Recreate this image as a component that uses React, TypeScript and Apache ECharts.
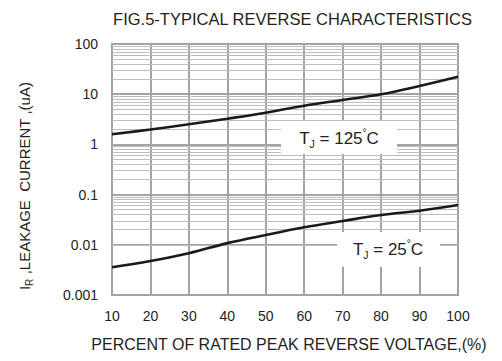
import React, { useEffect, useRef } from "react";
import * as echarts from "echarts";

const voltagePct = [10, 20, 30, 40, 50, 60, 70, 80, 90, 100];
const ir125 = [1.59, 1.98, 2.51, 3.25, 4.28, 5.9, 7.66, 9.95, 14.6, 22.3];
const ir25 = [0.00356, 0.00475, 0.0068, 0.0108, 0.0157, 0.0223, 0.0298, 0.0392, 0.0478, 0.0621];
const yTickLabels = ["0.001", "0.01", "0.1", "1", "10", "100"];
const decades = [0.001, 0.01, 0.1, 1, 10];
const minorMultipliers = [2, 3, 4, 5, 6, 7, 8, 9];

const TEXT = "#231f20";
const FONT = "Liberation Sans, Arial, sans-serif";

export default function App() {
  const ref = useRef<HTMLDivElement>(null);
  useEffect(() => {
    if (!ref.current) return;
    const chart = echarts.init(ref.current, null, { renderer: "svg" });
    const minorLines: { yAxis: number }[] = [];
    decades.forEach((d) => minorMultipliers.forEach((m) => minorLines.push({ yAxis: +(d * m).toPrecision(3) })));

    const tjRich = {
      n: { fontSize: 17, fontFamily: FONT, fill: TEXT, lineHeight: 22, verticalAlign: "middle" },
      s: { fontSize: 10.5, fontFamily: FONT, fill: TEXT, lineHeight: 22, verticalAlign: "bottom", padding: [10, 0, 0, 0] },
      u: { fontSize: 10, fontFamily: FONT, fill: TEXT, lineHeight: 22, verticalAlign: "top", padding: [0, 0, 8, 0] },
    };

    chart.setOption({
      animation: false,
      backgroundColor: "#fff",
      textStyle: { fontFamily: FONT },
      grid: {
        left: 112,
        top: 44,
        right: 44,
        bottom: 66,
        outerBoundsMode: "none",
        containLabel: false,
        show: true,
        borderColor: "#9b9b9b",
        borderWidth: 2,
      },
      xAxis: {
        type: "value",
        min: 10,
        max: 100,
        interval: 10,
        name: "PERCENT OF RATED PEAK REVERSE VOLTAGE,(%)",
        nameLocation: "middle",
        nameGap: 41,
        nameTextStyle: { fontSize: 16, color: TEXT, fontFamily: FONT, padding: [0, 0, 0, 8] },
        axisLine: { show: false },
        axisTick: { show: false },
        axisLabel: { fontSize: 14, color: TEXT, margin: 14, fontFamily: FONT },
        splitLine: { show: true, lineStyle: { color: "#a3a3a3", width: 2 } },
      },
      yAxis: {
        type: "log",
        logBase: 10,
        min: 0.001,
        max: 100,
        axisLine: { show: false },
        axisTick: { show: false },
        axisLabel: {
          fontSize: 14,
          color: TEXT,
          margin: 14,
          fontFamily: FONT,
          formatter: (v: number) => {
            const i = Math.round(Math.log10(v)) + 3;
            return yTickLabels[i] ?? String(v);
          },
        },
        splitLine: { show: true, lineStyle: { color: "#a3a3a3", width: 2 } },
      },
      series: [
        {
          type: "line",
          z: 1,
          silent: true,
          data: voltagePct.map((x, i) => [x, ir125[i]]),
          lineStyle: { opacity: 0 },
          showSymbol: false,
          markLine: {
            silent: true,
            symbol: ["none", "none"],
            label: { show: false },
            lineStyle: { color: "#bdbdbd", width: 1, type: "solid" },
            data: minorLines,
          },
        },
        {
          type: "line",
          z: 5,
          smooth: 0.4,
          showSymbol: false,
          data: voltagePct.map((x, i) => [x, ir125[i]]),
          lineStyle: { color: "#1a1a1a", width: 2.6 },
        },
        {
          type: "line",
          z: 5,
          smooth: 0.4,
          showSymbol: false,
          data: voltagePct.map((x, i) => [x, ir25[i]]),
          lineStyle: { color: "#1a1a1a", width: 2.6 },
        },
      ],
      graphic: [
        {
          type: "text",
          x: 292.5,
          y: 19,
          style: {
            text: "FIG.5-TYPICAL REVERSE CHARACTERISTICS",
            fontSize: 16.5,
            fontFamily: FONT,
            fill: TEXT,
            align: "center",
            verticalAlign: "middle",
          },
        },
        {
          type: "text",
          x: 24,
          y: 186,
          rotation: Math.PI / 2,
          style: {
            text: "{n|I}{s|R}{n| ,LEAKAGE  CURRENT ,(uA)}",
            fontFamily: FONT,
            fill: TEXT,
            align: "center",
            verticalAlign: "middle",
            rich: {
              n: { fontSize: 15, fontFamily: FONT, fill: TEXT, lineHeight: 20, verticalAlign: "middle" },
              s: { fontSize: 10, fontFamily: FONT, fill: TEXT, lineHeight: 20, verticalAlign: "bottom", padding: [6, 0, 0, 0] },
            },
          },
        },
        {
          type: "rect",
          z: 10,
          shape: { x: 281, y: 121, width: 116, height: 33 },
          style: { fill: "#fff" },
        },
        {
          type: "text",
          z: 11,
          x: 339,
          y: 138,
          style: {
            text: "{n|T}{s|J}{n| = 125}{u|°}{n|C}",
            fontFamily: FONT,
            fill: TEXT,
            align: "center",
            verticalAlign: "middle",
            rich: tjRich,
          },
        },
        {
          type: "rect",
          z: 10,
          shape: { x: 337, y: 232, width: 103, height: 35 },
          style: { fill: "#fff" },
        },
        {
          type: "text",
          z: 11,
          x: 388,
          y: 249,
          style: {
            text: "{n|T}{s|J}{n| = 25}{u|°}{n|C}",
            fontFamily: FONT,
            fill: TEXT,
            align: "center",
            verticalAlign: "middle",
            rich: tjRich,
          },
        },
      ],
    });
    return () => chart.dispose();
  }, []);
  return (
    <div
      ref={ref}
      style={{ position: "fixed", left: 0, top: 0, width: 502, height: 361, background: "#fff" }}
    />
  );
}
